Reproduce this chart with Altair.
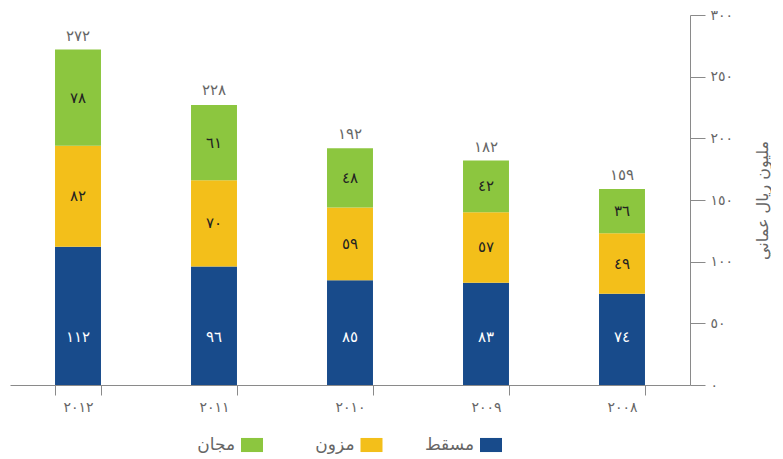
import altair as alt
import pandas as pd

# ---- data ----
years = ["2012", "2011", "2010", "2009", "2008"]
muscat = [112, 96, 85, 83, 74]
mazoon = [82, 70, 59, 57, 49]
majan = [78, 61, 48, 42, 36]
totals = [272, 228, 192, 182, 159]
series = ["مسقط", "مزون", "مجان"]
colors = ["#184b8b", "#f3bf1a", "#8cc63f"]
y_ticks = [0, 50, 100, 150, 200, 250, 300]
y_title = "مليون ريال عماني"
blue_label_at = 39

FONT = "DejaVu Sans"
GREY = "#666666"
AXIS_GREY = "#8a8a8a"

AR = str.maketrans("0123456789", "٠١٢٣٤٥٦٧٨٩")


def ar(n):
    return str(n).translate(AR)


year_labels = [ar(y) for y in years]

rows = []
for i, y in enumerate(years):
    cum = 0
    for j, (s, vals) in enumerate(zip(series, [muscat, mazoon, majan])):
        v = vals[i]
        rows.append(dict(year=ar(y), series=s, order=j, value=v,
                         lo=cum, hi=cum + v, mid=cum + v / 2, label=ar(v)))
        cum += v
df = pd.DataFrame(rows)
tot = pd.DataFrame(dict(year=year_labels, total=totals, label=[ar(t) for t in totals]))
leg = pd.DataFrame(dict(series=series))

label_expr = " : ".join(
    [f"datum.value == {v} ? '{ar(v)}'" for v in y_ticks]) + " : ''"

xenc = alt.X("year:N", sort=year_labels,
             scale=alt.Scale(paddingInner=0.662, paddingOuter=0.331),
             axis=alt.Axis(title=None, tickBand="extent", labelAngle=0,
                           domainColor=AXIS_GREY, tickColor=AXIS_GREY, tickSize=10,
                           labelColor=GREY, labelFontSize=14, labelFont=FONT,
                           labelPadding=5))
yscale = alt.Scale(domain=[0, 300], nice=False)
color_scale = alt.Scale(domain=series, range=colors)

bars = alt.Chart(df).mark_bar().encode(
    x=xenc,
    y=alt.Y("lo:Q", scale=yscale,
            axis=alt.Axis(orient="right", values=y_ticks, labelExpr=label_expr,
                          grid=False, tickSize=15, domainColor=AXIS_GREY,
                          tickColor=AXIS_GREY, labelColor=GREY, labelFontSize=14,
                          labelFont=FONT, labelPadding=5, title=y_title,
                          titleAngle=270, titleFont=FONT, titleFontSize=16,
                          titleFontWeight="normal", titleColor=GREY,
                          titlePadding=38)),
    y2="hi:Q",
    color=alt.Color("series:N", scale=color_scale, legend=None),
)

inner = alt.Chart(df).transform_filter("datum.order > 0").mark_text(
    font=FONT, fontSize=15, color="#222222", baseline="middle"
).encode(x=alt.X("year:N", sort=year_labels), y=alt.Y("mid:Q"), text="label:N")

blue_txt = alt.Chart(df).transform_filter("datum.order == 0").mark_text(
    font=FONT, fontSize=15, color="#ffffff", baseline="middle"
).encode(x=alt.X("year:N", sort=year_labels), y=alt.datum(blue_label_at), text="label:N")

tot_txt = alt.Chart(tot).mark_text(
    font=FONT, fontSize=15, color=GREY, baseline="middle", dy=-14
).encode(x=alt.X("year:N", sort=year_labels), y=alt.Y("total:Q"), text="label:N")

main = alt.layer(bars, inner, blue_txt, tot_txt).properties(width=680, height=370)

legend_order = [series[2], series[1], series[0]]
leg_x = alt.X("series:N", sort=legend_order,
              scale=alt.Scale(type="point", domain=legend_order, range=[242, 481],
                              padding=0),
              axis=None)
leg_sym = alt.Chart(leg).mark_point(
    shape="M-1,-0.64H1V0.64H-1Z", filled=True, opacity=1, strokeWidth=0, size=484
).encode(x=leg_x, color=alt.Color("series:N", scale=color_scale, legend=None))
leg_txt = alt.Chart(leg).mark_text(
    align="right", dx=-17, font=FONT, fontSize=17, color=GREY, baseline="middle"
).encode(x=leg_x, text="series:N")
legend = alt.layer(leg_sym, leg_txt).properties(width=680, height=20)

chart = alt.vconcat(main, legend, spacing=21).properties(
    padding={"left": 2, "top": 0, "right": 0, "bottom": 0}
).configure_view(stroke=None)

chart.save("out.html", embed_options={"renderer": "svg", "actions": False})
